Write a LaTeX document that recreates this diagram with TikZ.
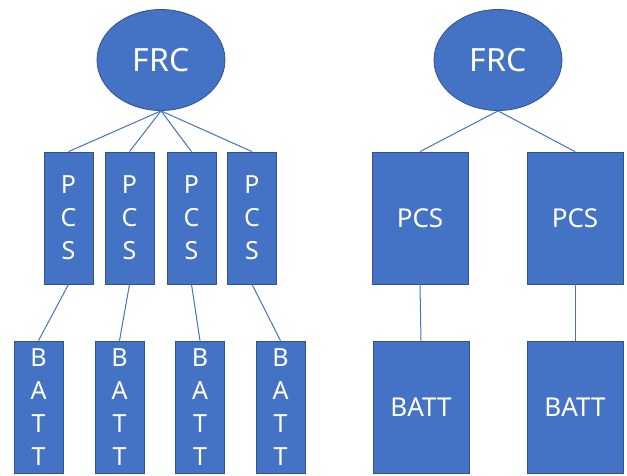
\documentclass[tikz,border=0pt]{standalone}
\usepackage{fontspec}
\setmainfont{Noto Sans}
\usetikzlibrary{shapes.geometric}
\definecolor{fillc}{HTML}{4472C4}
\definecolor{edgec}{HTML}{2F528F}
\begin{document}
\begin{tikzpicture}[x=1pt,y=-1pt,
  box/.style={draw=edgec, fill=fillc, line width=0.8pt, inner sep=0pt, text=white, align=center, font=\fontsize{25}{33}\selectfont},
  narrowpcs/.style={box, minimum width=49pt, minimum height=132pt},
  narrowbatt/.style={box, minimum width=49pt, minimum height=132pt},
  widebox/.style={box, minimum width=96pt, minimum height=132pt, font=\fontsize{26}{30}\selectfont},
  frc/.style={ellipse, draw=edgec, fill=fillc, line width=0.8pt, inner sep=0pt, minimum width=128pt, minimum height=101pt, text=white, font=\fontsize{32}{36}\selectfont},
  link/.style={draw=fillc, line width=1pt}]
\useasboundingbox (0,0) rectangle (627,475);
% left tree
\node[frc] (f1) at (161,60) {FRC};
\node[narrowpcs] (p1) at (68.5,218) {P\\C\\S};
\node[narrowpcs] (p2) at (129.5,218) {P\\C\\S};
\node[narrowpcs] (p3) at (191.5,218) {P\\C\\S};
\node[narrowpcs] (p4) at (252,218) {P\\C\\S};
\node[narrowbatt] (b1) at (38.5,407) {B\\A\\T\\T};
\node[narrowbatt] (b2) at (119.5,407) {B\\A\\T\\T};
\node[narrowbatt] (b3) at (200,407) {B\\A\\T\\T};
\node[narrowbatt] (b4) at (280.5,407) {B\\A\\T\\T};
\foreach \i in {1,2,3,4} {
  \draw[link] (f1.south) -- (p\i.north);
  \draw[link] (p\i.south) -- (b\i.north);
}
% right tree
\node[frc] (f2) at (498,60) {FRC};
\node[widebox] (q1) at (420,218) {PCS};
\node[widebox] (q2) at (575,218) {PCS};
\node[widebox] (c1) at (421,407) {BATT};
\node[widebox] (c2) at (575,407) {BATT};
\draw[link] (f2.south) -- (q1.north);
\draw[link] (f2.south) -- (q2.north);
\draw[link] (q1.south) -- (c1.north);
\draw[link] (q2.south) -- (c2.north);
\end{tikzpicture}
\end{document}
